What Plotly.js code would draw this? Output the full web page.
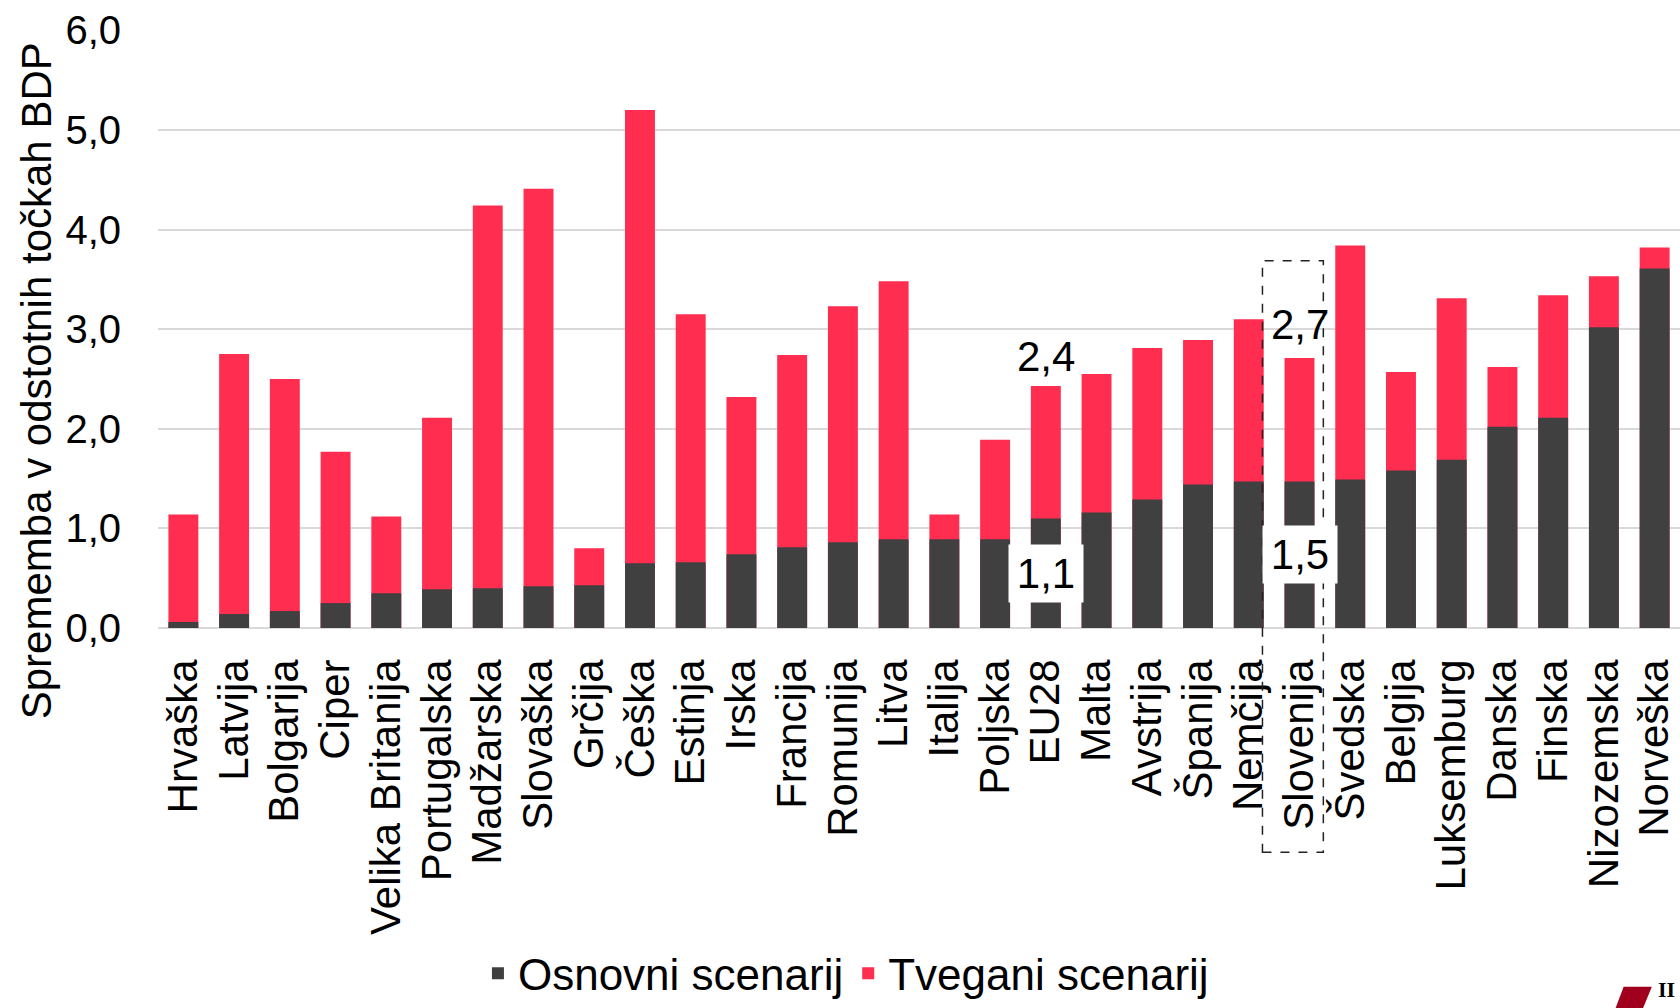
<!DOCTYPE html>
<html>
<head>
<meta charset="utf-8">
<script src="https://cdn.plot.ly/plotly-3.0.1.min.js"></script>
<style>html,body{margin:0;padding:0;background:#fff;}#chart{width:1680px;height:1008px;}</style>
</head>
<body>
<div id="chart"></div>
<script>
const categories = ["Hrvaška","Latvija","Bolgarija","Ciper","Velika Britanija","Portugalska","Madžarska","Slovaška","Grčija","Češka","Estinja","Irska","Francija","Romunija","Litva","Italija","Poljska","EU28","Malta","Avstrija","Španija","Nemčija","Slovenija","Švedska","Belgija","Luksemburg","Danska","Finska","Nizozemska","Norveška"];
const osnovni = [0.06,0.14,0.17,0.25,0.35,0.39,0.40,0.42,0.43,0.65,0.66,0.74,0.81,0.86,0.89,0.89,0.89,1.10,1.16,1.29,1.44,1.47,1.47,1.49,1.58,1.69,2.02,2.11,3.02,3.61];
const tvegani = [1.14,2.75,2.50,1.77,1.12,2.11,4.24,4.41,0.80,5.20,3.15,2.32,2.74,3.23,3.48,1.14,1.89,2.43,2.55,2.81,2.89,3.10,2.71,3.84,2.57,3.31,2.62,3.34,3.53,3.82];
const labelled = ["EU28","Slovenija"];
const highlight = "Slovenija";
const yTicks = [0,1,2,3,4,5,6];
const yTickText = yTicks.map(v => v.toFixed(1).replace('.', ','));

const DARK = '#404040';
const RED = '#FF2D50';
const FONT = 'Liberation Sans, Arial, sans-serif';
const fmt = v => v.toFixed(1).replace('.', ',');

const traces = [
  {type:'bar', name:'Tvegani scenarij', x:categories, y:tvegani, marker:{color:RED}, hoverinfo:'x+y'},
  {type:'bar', name:'Osnovni scenarij', x:categories, y:osnovni, marker:{color:DARK}, hoverinfo:'x+y'}
];

const annotations = [];
labelled.forEach(c => {
  const i = categories.indexOf(c);
  annotations.push({x:c, y:tvegani[i], xref:'x', yref:'y', text:fmt(tvegani[i]), showarrow:false,
    yanchor:'bottom', yshift: c === 'Slovenija' ? 8 : 4, font:{family:FONT, size:42, color:'#000'}});
  annotations.push({x:c, y:osnovni[i]/2, xref:'x', yref:'y', text:fmt(osnovni[i]), showarrow:false,
    yanchor:'middle', bgcolor:'#fff', width:74, height:57, borderpad:0, font:{family:FONT, size:42, color:'#000'}});
});
annotations.push({x:-0.08, y:0.413, xref:'paper', yref:'paper', text:'Sprememba v odstotnih točkah BDP',
  textangle:-90, showarrow:false, xanchor:'center', yanchor:'middle', font:{family:FONT, size:42, color:'#000'}});
annotations.push({x:0.998, y:-0.628, xref:'paper', yref:'paper', text:'<b>II</b>', showarrow:false,
  xanchor:'right', yanchor:'bottom', font:{family:'Liberation Serif, serif', size:22, color:'#000'}});

const hi = categories.indexOf(highlight);
const shapes = [
  {type:'rect', xref:'x', yref:'paper', x0:hi-0.73, x1:hi+0.47, y0:-0.375, y1:0.614,
   line:{color:'#222', width:1.5, dash:'dash'}, fillcolor:'rgba(0,0,0,0)', layer:'above'},
  {type:'path', xref:'paper', yref:'paper',
   path:'M 0.963 -0.6 L 0.9815 -0.6 L 0.975 -0.64 L 0.957 -0.64 Z', fillcolor:'#A0001E', line:{width:0}}
];

const layout = {
  width:1680, height:1008,
  margin:{l:158, r:0, t:30, b:380, autoexpand:false},
  paper_bgcolor:'#fff', plot_bgcolor:'#fff',
  barmode:'overlay', bargap:0.41,
  font:{family:FONT, color:'#000'},
  showlegend:true,
  legend:{orientation:'h', x:0.452, xanchor:'center', y:-0.578, yanchor:'middle', traceorder:'reversed',
    font:{family:'Liberation Sans Narrow, Arial Narrow, Liberation Sans, sans-serif', size:44, color:'#000'}},
  xaxis:{type:'category', tickangle:-90, tickfont:{family:FONT, size:42, color:'#000'},
    showgrid:false, ticks:'', ticklabelstandoff:22, showline:false, zeroline:false},
  yaxis:{range:[0,6.003], tickvals:yTicks, ticktext:yTickText, tickfont:{family:FONT, size:40, color:'#000'},
    showgrid:true, gridcolor:'#D9D9D9', gridwidth:1.5, zeroline:true, zerolinecolor:'#D9D9D9', zerolinewidth:1.5,
    ticks:'', ticklabelstandoff:36, showline:false},
  annotations:annotations,
  shapes:shapes
};

Plotly.newPlot('chart', traces, layout, {displayModeBar:false, responsive:false});
</script>
</body>
</html>
